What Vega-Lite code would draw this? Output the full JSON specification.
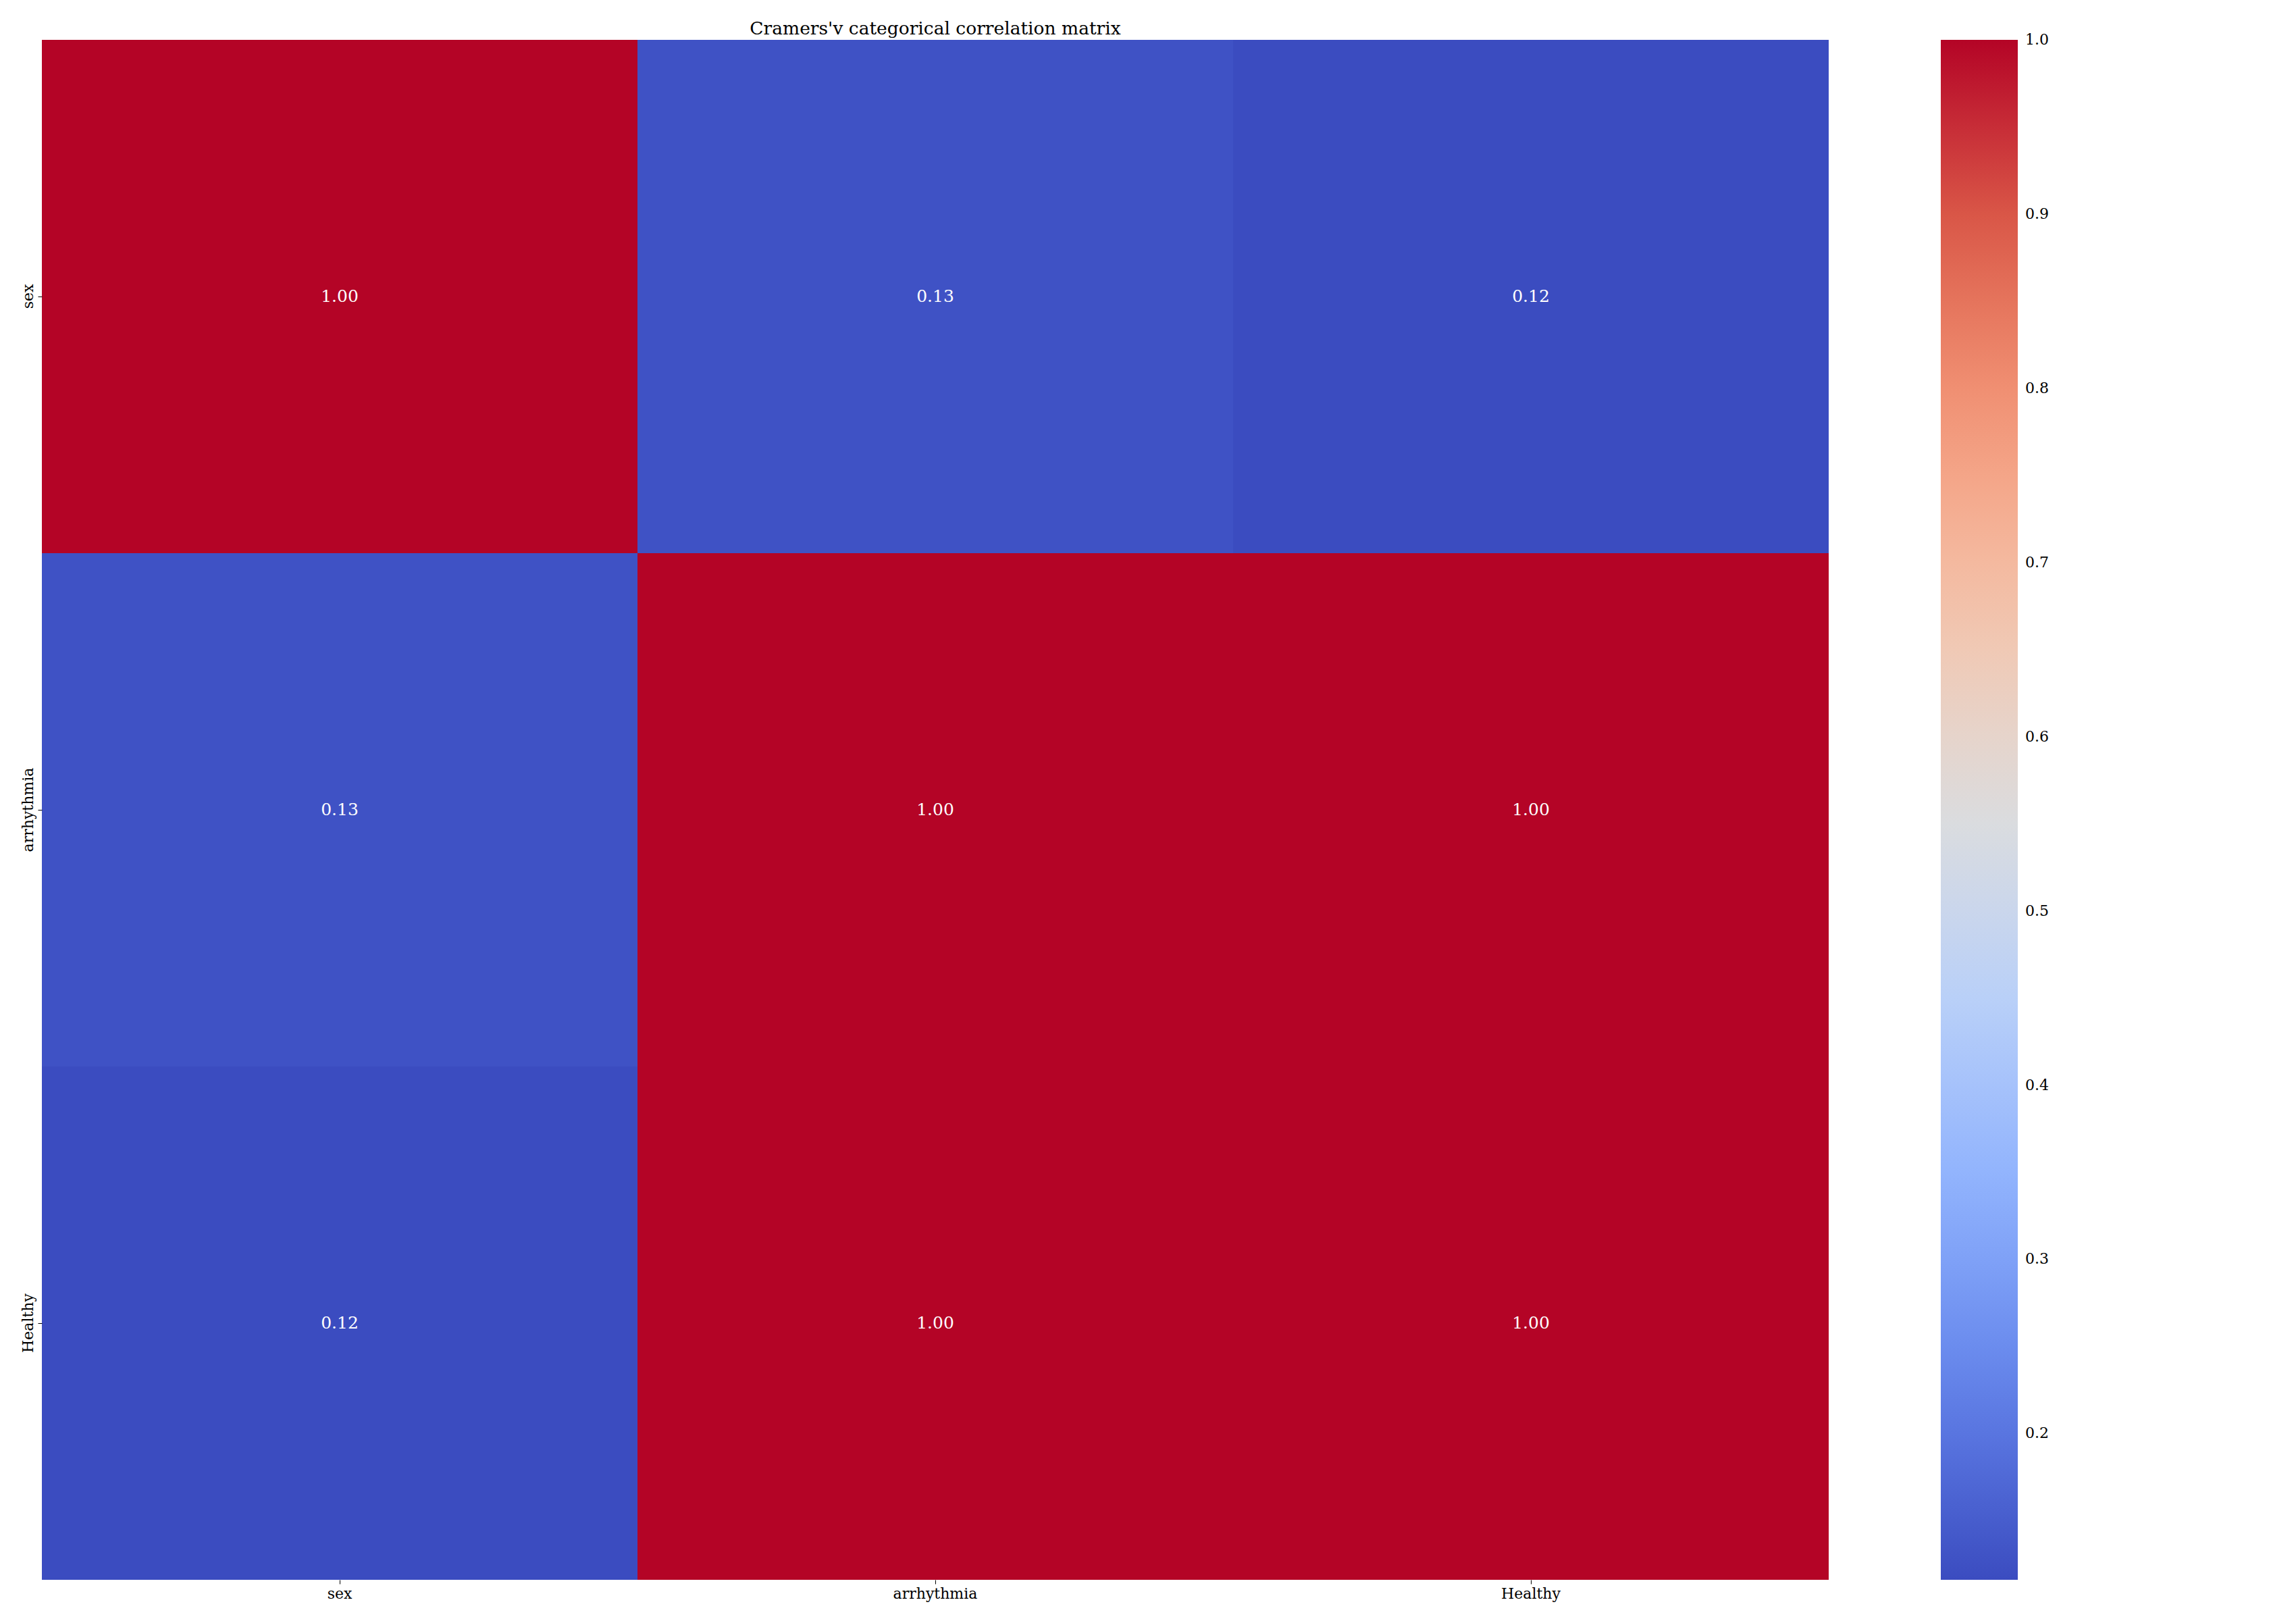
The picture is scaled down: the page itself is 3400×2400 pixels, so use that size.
{
  "$schema": "https://vega.github.io/schema/vega-lite/v6.json",
  "width": 2646,
  "height": 2280,
  "autosize": {"type": "none"},
  "padding": {"left": 62, "top": 59, "right": 692, "bottom": 61},
  "background": "white",
  "title": {
    "text": "Cramers'v categorical correlation matrix",
    "font": "DejaVu Serif",
    "fontSize": 26.5,
    "fontWeight": "normal",
    "color": "black",
    "anchor": "middle",
    "frame": "group",
    "baseline": "alphabetic",
    "offset": 9,
    "dy": 27
  },
  "data": {
    "values": [
      {"row": "sex", "col": "sex", "v": 1.0},
      {"row": "sex", "col": "arrhythmia", "v": 0.128},
      {"row": "sex", "col": "Healthy", "v": 0.116},
      {"row": "arrhythmia", "col": "sex", "v": 0.128},
      {"row": "arrhythmia", "col": "arrhythmia", "v": 1.0},
      {"row": "arrhythmia", "col": "Healthy", "v": 1.0},
      {"row": "Healthy", "col": "sex", "v": 0.116},
      {"row": "Healthy", "col": "arrhythmia", "v": 1.0},
      {"row": "Healthy", "col": "Healthy", "v": 1.0}
    ]
  },
  "encoding": {
    "x": {
      "field": "col",
      "type": "nominal",
      "sort": ["sex", "arrhythmia", "Healthy"],
      "title": null,
      "scale": {"paddingInner": 0, "paddingOuter": 0},
      "axis": {
        "orient": "bottom",
        "labelAngle": 0,
        "domain": false,
        "ticks": true,
        "tickSize": 6,
        "tickColor": "black",
        "tickWidth": 1,
        "labelFont": "DejaVu Serif",
        "labelFontSize": 22,
        "labelColor": "black",
        "labelPadding": 4,
        "grid": false
      }
    },
    "y": {
      "field": "row",
      "type": "nominal",
      "sort": ["sex", "arrhythmia", "Healthy"],
      "title": null,
      "scale": {"paddingInner": 0, "paddingOuter": 0},
      "axis": {
        "orient": "left",
        "labelAngle": -90,
        "labelAlign": "center",
        "labelBaseline": "alphabetic",
        "domain": false,
        "ticks": true,
        "tickSize": 6,
        "tickColor": "black",
        "tickWidth": 1,
        "labelFont": "DejaVu Serif",
        "labelFontSize": 22,
        "labelColor": "black",
        "labelPadding": 8,
        "grid": false
      }
    }
  },
  "layer": [
    {
      "mark": {"type": "rect", "strokeWidth": 0},
      "encoding": {
        "color": {
          "field": "v",
          "type": "quantitative",
          "scale": {
            "domain": [0.116, 0.2265, 0.337, 0.4475, 0.558, 0.6685, 0.779, 0.8895, 1.0],
            "range": ["#3b4cc0", "#6282ea", "#8db0fe", "#b8d0f9", "#dddddd", "#f4c5ad", "#f49a7b", "#dd5f4b", "#b40426"],
            "interpolate": "rgb"
          },
          "legend": {
            "type": "gradient",
            "orient": "none",
            "legendX": 2812,
            "legendY": 0,
            "direction": "vertical",
            "gradientLength": 2280,
            "gradientThickness": 114,
            "gradientStrokeWidth": 0,
            "title": null,
            "values": [0.2, 0.3, 0.4, 0.5, 0.6, 0.7, 0.8, 0.9, 1.0],
            "format": ".1f",
            "labelFont": "DejaVu Serif",
            "labelFontSize": 22,
            "labelColor": "black",
            "labelOffset": 11,
            "labelBaseline": "middle",
            "labelOverlap": false,
            "padding": 0,
            "encode": {"labels": {"update": {"baseline": {"value": "middle"}}}}
          }
        }
      }
    },
    {
      "mark": {"type": "text", "font": "DejaVu Serif", "fontSize": 25, "color": "white", "align": "center", "baseline": "middle"},
      "encoding": {
        "text": {"field": "v", "type": "quantitative", "format": ".2f"}
      }
    }
  ],
  "config": {"view": {"stroke": null}}
}
